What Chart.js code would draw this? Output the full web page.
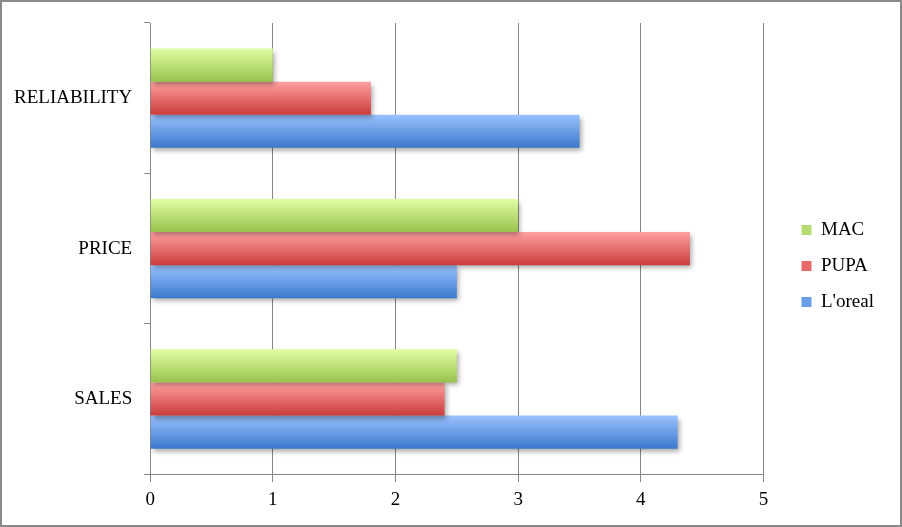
<!DOCTYPE html>
<html>
<head>
<meta charset="utf-8">
<script src="https://cdn.jsdelivr.net/npm/chart.js@4/dist/chart.umd.min.js"></script>
<style>
  html, body { margin: 0; padding: 0; background: #fff; }
  #wrap { width: 902px; height: 527px; box-sizing: border-box; border: 2px solid #8a8a8a; position: relative; }
</style>
</head>
<body>
<div id="wrap"><canvas id="chart"></canvas></div>
<script>
// data
const categories = ['RELIABILITY', 'PRICE', 'SALES'];
const macValues = [1, 3, 2.5];
const pupaValues = [1.8, 4.4, 2.4];
const lorealValues = [3.5, 2.5, 4.3];
const xTicks = [0, 1, 2, 3, 4, 5];

// gradient stops per series (top, bottom)
const gradients = [
    ['#e0fea4', '#98c24c'],
    ['#ffa0a0', '#cc3b3b'],
    ['#9ac2ff', '#3b78cc']
];

// paint each bar with a vertical gradient and a soft shadow
const barStyle = {
    id: 'barStyle',
    beforeDatasetsDraw(chart) {
        const ctx = chart.ctx;
        chart.data.datasets.forEach((ds, i) => {
            chart.getDatasetMeta(i).data.forEach(bar => {
                const top = bar.y - bar.height / 2;
                const g = ctx.createLinearGradient(0, top, 0, top + bar.height);
                g.addColorStop(0, gradients[i][0]);
                g.addColorStop(1, gradients[i][1]);
                bar.options = Object.assign({}, bar.options, { backgroundColor: g });
            });
        });
        ctx.save();
        ctx.shadowColor = 'rgba(0,0,0,0.35)';
        ctx.shadowOffsetX = 2;
        ctx.shadowOffsetY = 3;
        ctx.shadowBlur = 5;
    },
    afterDatasetsDraw(chart) {
        chart.ctx.restore();
    }
};

// push the legend a bit further from the plot, like the original
const legendGap = {
    id: 'legendGap',
    beforeDraw(chart) {
        const lg = chart.legend;
        const w = lg.right - lg.left;
        const h = lg.bottom - lg.top;
        lg.left = chart.chartArea.right + 21;
        lg.right = lg.left + w;
        lg.top = chart.chartArea.top - 4;
        lg.bottom = lg.top + h;
    }
};

const ctx = document.getElementById('chart').getContext('2d');
new Chart(ctx, {
    type: 'bar',
    data: {
        labels: categories,
        datasets: [
            { label: 'MAC', data: macValues, backgroundColor: '#b8dc74' },
            { label: 'PUPA', data: pupaValues, backgroundColor: '#e66a6a' },
            { label: "L'oreal", data: lorealValues, backgroundColor: '#6a9ee8' }
        ]
    },
    options: {
        indexAxis: 'y',
        responsive: true,
        maintainAspectRatio: false,
        animation: false,
        categoryPercentage: 0.66,
        barPercentage: 1,
        layout: {
            padding: { top: 21, left: 0, right: 37, bottom: 8 }
        },
        plugins: {
            legend: {
                position: 'right',
                labels: {
                    boxWidth: 10,
                    boxHeight: 10,
                    padding: 17,
                    color: '#000',
                    font: { family: 'Liberation Serif', size: 19 }
                }
            },
            tooltip: { enabled: false }
        },
        scales: {
            x: {
                min: 0,
                max: 5,
                afterBuildTicks: axis => {
                    axis.ticks = xTicks.map(v => ({ value: v }));
                },
                ticks: {
                    color: '#000',
                    padding: 6,
                    font: { family: 'Liberation Serif', size: 19 }
                },
                grid: {
                    color: '#868686',
                    tickLength: 8
                },
                border: { color: '#868686' }
            },
            y: {
                afterFit: axis => {
                    // labels sit inside their bands, no extra room needed above
                    axis.paddingTop = 0;
                    axis.paddingBottom = 0;
                },
                ticks: {
                    color: '#000',
                    padding: 12,
                    font: { family: 'Liberation Serif', size: 19 }
                },
                grid: {
                    drawOnChartArea: false,
                    color: '#868686',
                    tickLength: 6
                },
                border: { color: '#868686' }
            }
        }
    },
    plugins: [barStyle, legendGap]
});
</script>
</body>
</html>
